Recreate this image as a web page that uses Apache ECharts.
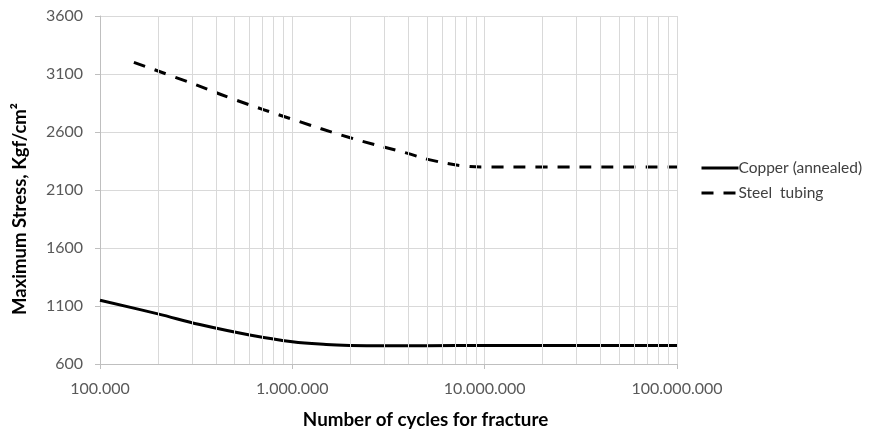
<!DOCTYPE html>
<html>
<head>
<meta charset="utf-8">
<script src="https://cdn.jsdelivr.net/npm/echarts@6/dist/echarts.min.js"></script>
<style>
  html, body { margin: 0; padding: 0; background: #fff; }
  #chart { width: 870px; height: 430px; }
</style>
</head>
<body>
<div id="chart"></div>
<script>
// cycles (x) and stress values
const copperCycles = [1e5, 2e5, 3.3e5, 6e5, 1e6, 1.5e6, 2e6, 3e6, 5e6, 1e7, 3e7, 1e8];
const copperStress = [1150, 1032, 940, 850, 792, 768, 760, 757, 758, 760, 760, 760];
const steelCycles = [1.5e5, 3e5, 5e5, 1e6, 2e6, 3.9e6, 5.2e6, 8e6, 1e7, 2e7, 5e7, 1e8];
const steelStress = [3200, 3020, 2880, 2710, 2550, 2420, 2360, 2305, 2298, 2298, 2298, 2298];
const seriesNames = ['Copper (annealed)', 'Steel  tubing'];

// minor log gridlines 2..9 per decade
const minorGrid = [];
[1e5, 1e6, 1e7].forEach(d => { for (let k = 2; k <= 9; k++) minorGrid.push(k * d); });

const font = 'Lato, "Open Sans", sans-serif';
const gridColor = '#d9d9d9';

function dots(v) {
  return Math.round(v).toString().replace(/\B(?=(\d{3})+(?!\d))/g, '.');
}

let myChart = echarts.init(document.getElementById('chart'));
myChart.setOption({
  animation: false,
  grid: { left: 100, right: 193, top: 16, bottom: 66, outerBoundsMode: 'none' },
  legend: {
    orient: 'vertical',
    left: 695,
    top: 155,
    itemWidth: 37,
    itemHeight: 10,
    itemGap: 9,
    itemStyle: { opacity: 0 },
    lineStyle: { width: 3 },
    textStyle: { fontFamily: font, fontSize: 15.5, color: '#404040', padding: [0, 0, 0, -5] },
    data: seriesNames
  },
  xAxis: {
    type: 'log',
    logBase: 10,
    min: 1e5,
    max: 1e8,
    name: 'Number of cycles for fracture',
    nameLocation: 'middle',
    nameGap: 46,
    nameTextStyle: { fontFamily: font, fontSize: 18.8, fontWeight: 'bold', color: '#000', padding: [0, 0, 0, 74] },
    axisLine: { lineStyle: { color: '#bfbfbf' } },
    axisTick: { show: true, length: 5, lineStyle: { color: '#bfbfbf' } },
    axisLabel: { fontFamily: font, fontSize: 16, color: '#595959', margin: 17, formatter: dots },
    splitLine: { show: true, lineStyle: { color: gridColor } }
  },
  yAxis: {
    type: 'value',
    min: 600,
    max: 3600,
    interval: 500,
    name: 'Maximum Stress, Kgf/cm²',
    nameLocation: 'middle',
    nameGap: 70,
    nameTextStyle: { fontFamily: font, fontSize: 18.5, fontWeight: 'bold', color: '#000', padding: [0, 38, 0, 0] },
    axisLine: { show: true, lineStyle: { color: '#bfbfbf' } },
    axisTick: { show: true, length: 5, lineStyle: { color: '#bfbfbf' } },
    axisLabel: { fontFamily: font, fontSize: 16, color: '#595959', margin: 17, formatter: v => String(v) },
    splitLine: { show: true, lineStyle: { color: gridColor } }
  },
  series: [
    {
      name: seriesNames[0],
      type: 'line',
      smooth: 0.4,
      symbol: 'none',
      lineStyle: { color: '#000', width: 3 },
      itemStyle: { color: '#000' },
      data: copperCycles.map((c, i) => [c, copperStress[i]]),
      markLine: {
        silent: true,
        symbol: 'none',
        label: { show: false },
        lineStyle: { color: gridColor, width: 1, type: 'solid' },
        data: minorGrid.map(v => ({ xAxis: v }))
      },
      z: 3
    },
    {
      name: seriesNames[1],
      type: 'line',
      smooth: 0.4,
      symbol: 'none',
      lineStyle: { color: '#000', width: 3, type: [12, 10] },
      itemStyle: { color: '#000' },
      data: steelCycles.map((c, i) => [c, steelStress[i]]),
      z: 3
    }
  ]
});
</script>
</body>
</html>
